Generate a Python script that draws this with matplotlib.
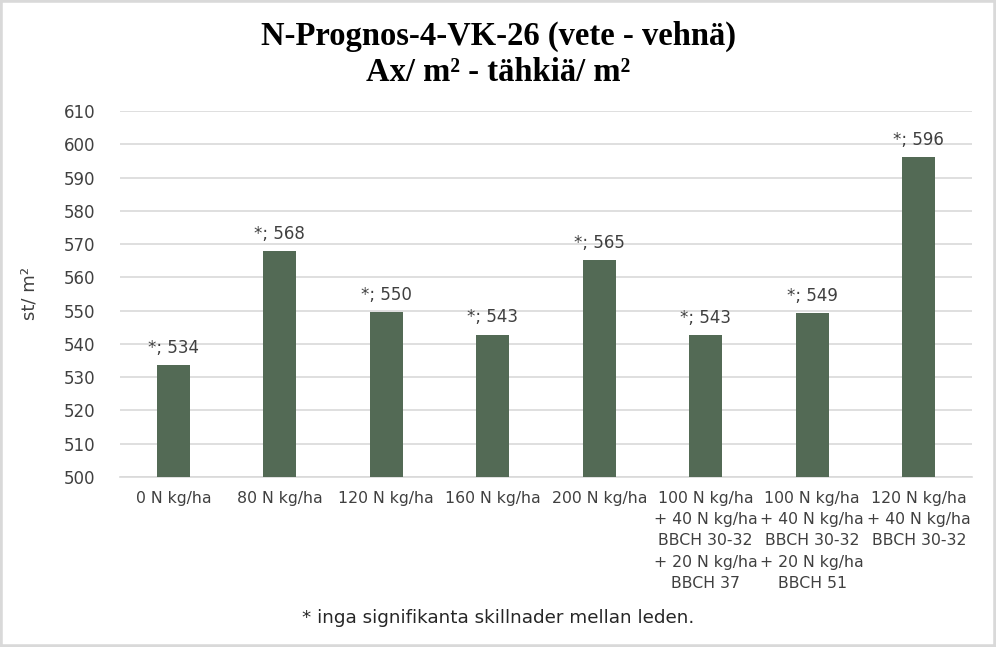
import matplotlib
matplotlib.use("Agg")
import matplotlib.pyplot as plt
from matplotlib.patches import Rectangle

categories = [
    "0 N kg/ha",
    "80 N kg/ha",
    "120 N kg/ha",
    "160 N kg/ha",
    "200 N kg/ha",
    "100 N kg/ha\n+ 40 N kg/ha\nBBCH 30-32\n+ 20 N kg/ha\nBBCH 37",
    "100 N kg/ha\n+ 40 N kg/ha\nBBCH 30-32\n+ 20 N kg/ha\nBBCH 51",
    "120 N kg/ha\n+ 40 N kg/ha\nBBCH 30-32",
]
values = [533.6, 567.8, 549.6, 542.8, 565.2, 542.6, 549.2, 596.2]
yticks = list(range(500, 611, 10))

plt.rcParams['font.family'] = ['DejaVu Sans']

fig = plt.figure(figsize=(9.96, 6.47), dpi=100)
ax = fig.add_axes([120/996, 1-477/647, 852/996, 366/647])

x = range(len(categories))
ax.bar(x, values, width=0.31, color='#536a55', zorder=3)
for xi, v in zip(x, values):
    ax.annotate(f"*; {round(v)}", (xi, v), xytext=(0, 6), textcoords='offset points',
                ha='center', va='bottom', fontsize=12, color='#404040')

ax.set_ylim(500, 610)
ax.set_xlim(-0.5, len(categories)-0.5)
ax.set_yticks(yticks)
ax.yaxis.grid(True, color='#d9d9d9', linewidth=1.2, zorder=0)
ax.set_xticks(list(x))
ax.set_xticklabels(categories, fontsize=11.3, color='#404040', linespacing=1.52)
ax.tick_params(axis='both', length=0, colors='#404040')
ax.tick_params(axis='y', labelsize=12, pad=18)
ax.tick_params(axis='x', pad=10)
for s in ['top', 'right', 'left']:
    ax.spines[s].set_visible(False)
ax.spines['bottom'].set_color('#d9d9d9')
ax.spines['bottom'].set_linewidth(1.2)

ax.set_ylabel("st/ m²", fontsize=13, color='#404040', labelpad=18)

fig.text(0.5, 0.943, "N-Prognos-4-VK-26 (vete - vehnä)", ha='center', va='center',
         fontsize=23.5, family='Liberation Serif', fontweight='bold', color='black')
fig.text(0.5, 0.888, "Ax/ m² - tähkiä/ m²", ha='center', va='center',
         fontsize=23.5, family='Liberation Serif', fontweight='bold', color='black')
fig.text(0.5, 0.045, "* inga signifikanta skillnader mellan leden.", ha='center', va='center',
         fontsize=13.2, color='#262626')

fig.patches.append(Rectangle((0, 0), 1, 1, transform=fig.transFigure, fill=False,
                             edgecolor='#d9d9d9', linewidth=4))

fig.savefig("out.png", dpi=100)
